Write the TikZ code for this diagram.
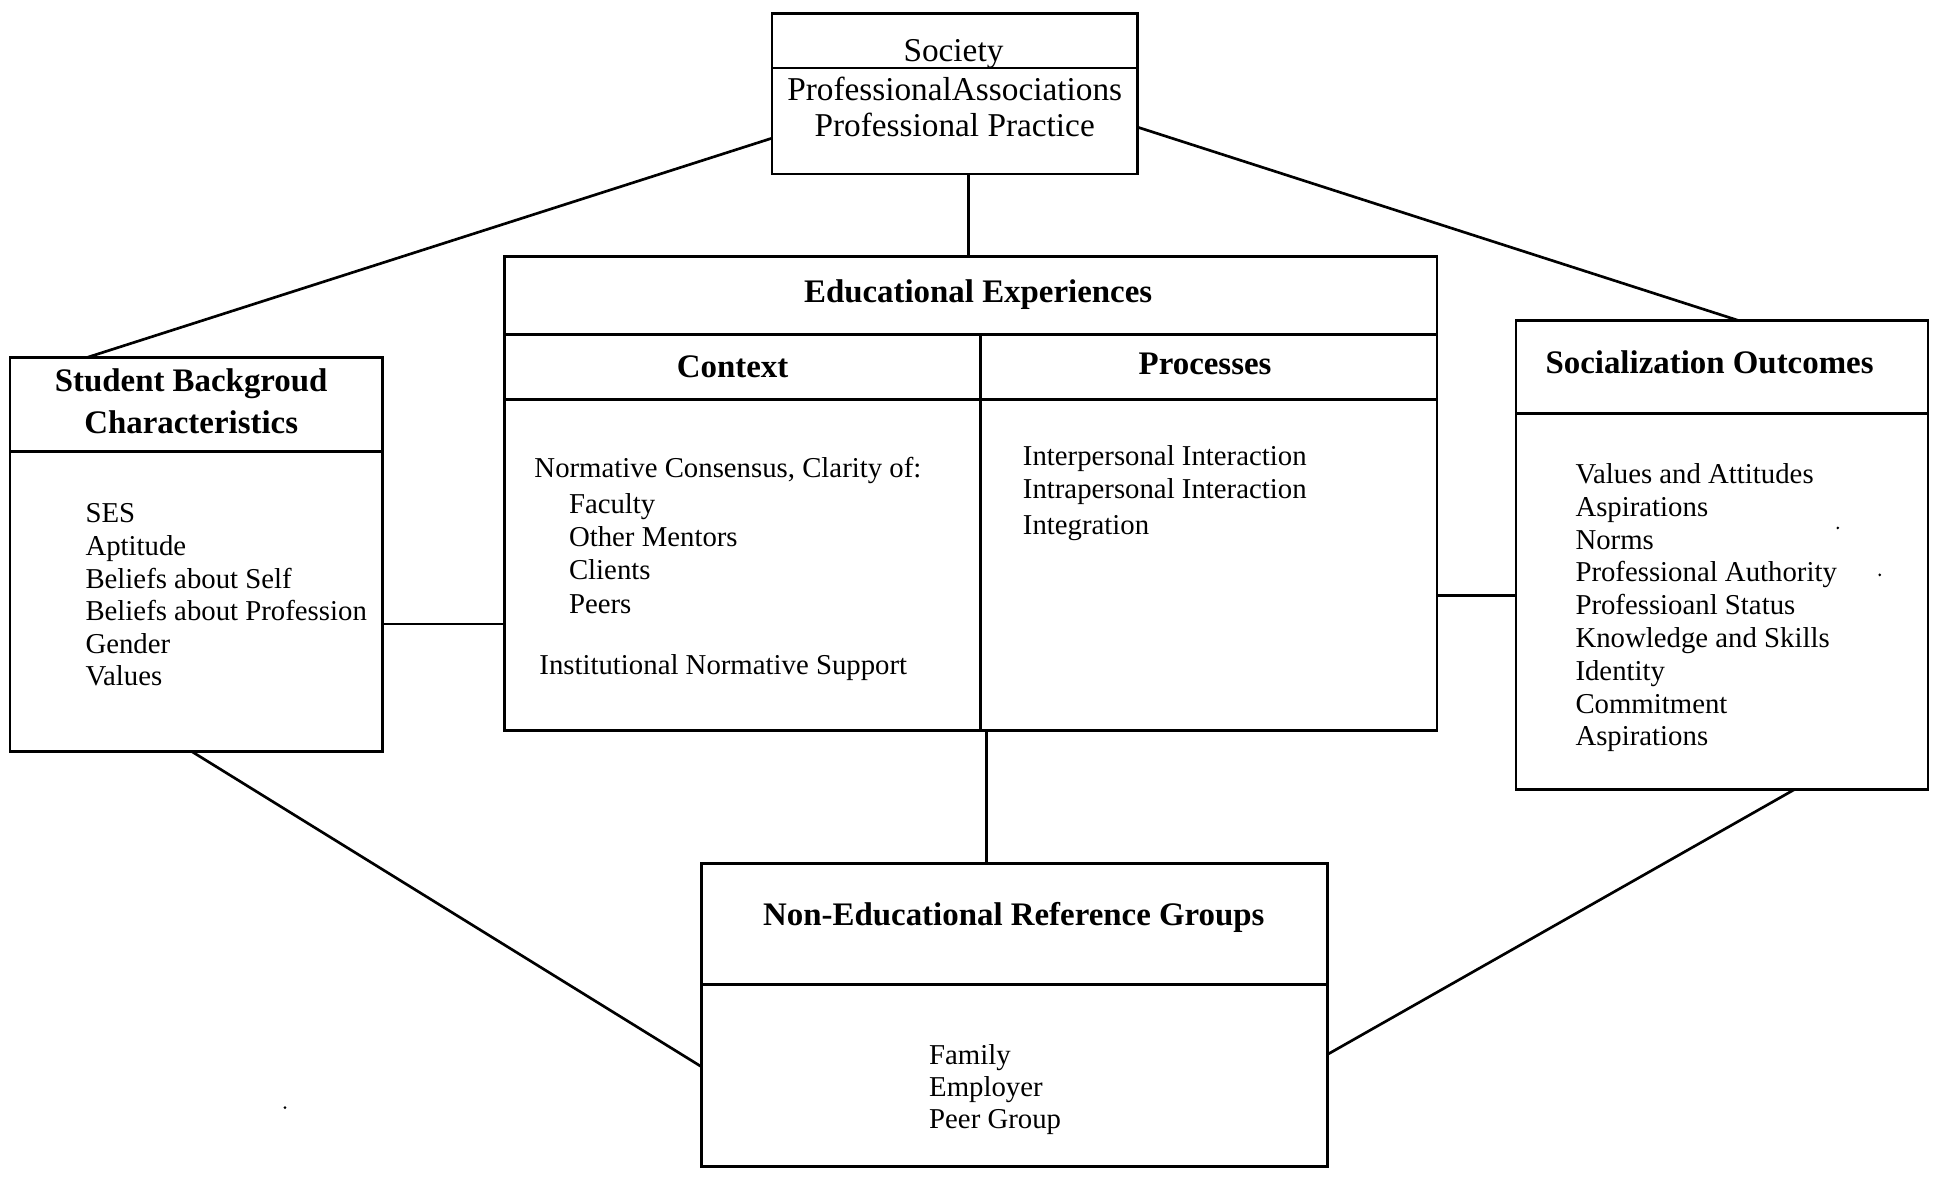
\documentclass[tikz,border=0pt]{standalone}
\usepackage{fontspec}
\setmainfont{Liberation Serif}
\usetikzlibrary{calc}
\tikzset{
 box/.style={draw, line width=1.3pt, rectangle, inner sep=0pt, outer sep=0pt, anchor=north west},
 rule/.style={line width=1.3pt},
 conn/.style={line width=1.3pt},
 head/.style={font=\fontsize{16}{19}\selectfont\bfseries, inner sep=0pt, anchor=center},
 soctext/.style={font=\fontsize{16.2}{19}\selectfont, inner sep=0pt, anchor=center},
 item/.style={font=\fontsize{14}{16}\selectfont, inner sep=0pt, anchor=base west},
}
\begin{document}
\begin{tikzpicture}[x=0.6pt,y=-0.6pt]
\useasboundingbox (0,0) rectangle (1568,958);
% boxes
\node[box, minimum width=177.6pt, minimum height=78pt] (soc) at (626,11) {};
\node[box, minimum width=453.6pt, minimum height=230.4pt] (ed) at (409,208) {};
\node[box, minimum width=181.2pt, minimum height=191.4pt] (stu) at (8,290) {};
\node[box, minimum width=200.4pt, minimum height=228pt] (out) at (1229,260) {};
\node[box, minimum width=304.2pt, minimum height=147.6pt] (ref) at (569,700) {};
% dividers
\draw[rule] (soc.west |- 0,55) -- (soc.east |- 0,55);
\draw[rule] (ed.west |- 0,271) -- (ed.east |- 0,271);
\draw[rule] (ed.west |- 0,324) -- (ed.east |- 0,324);
\draw[rule] (795,271) -- (ed.south -| 795,0);
\draw[rule] (stu.west |- 0,366) -- (stu.east |- 0,366);
\draw[rule] (out.west |- 0,335) -- (out.east |- 0,335);
\draw[rule] (ref.west |- 0,798) -- (ref.east |- 0,798);
% connectors
\draw[conn] (soc.south -| 785,0) -- (ed.north -| 785,0);
\draw[conn] (soc.west |- 0,112) -- (stu.north -| 70,0);
\draw[conn] (soc.east |- 0,103) -- (out.north -| 1410,0);
\draw[conn] (stu.east |- 0,506) -- (ed.west |- 0,506);
\draw[conn] (ed.east |- 0,483) -- (out.west |- 0,483);
\draw[conn] (ed.south -| 800,0) -- (ref.north -| 800,0);
\draw[conn] (stu.south -| 155,0) -- (ref.west |- 0,865);
\draw[conn] (out.south -| 1455,0) -- (ref.east |- 0,855);
% society
\node[soctext] (socT) at (773,44) {Society};
\node[soctext] (socA) at (774,72) {ProfessionalAssociations};
\node[soctext] (socP) at (774,101) {Professional Practice};
% educational
\node[head] (edT) at (793,239) {Educational Experiences};
\node[head] (ctxT) at (594,297) {Context};
\node[head] (prcT) at (977,295) {Processes};
\node[item] (c1) at (433,387) {Normative Consensus, Clarity of:};
\node[item] (c2) at (461,416) {Faculty};
\node[item] (c3) at (461,443) {Other Mentors};
\node[item] (c4) at (461,470) {Clients};
\node[item] (c5) at (461,497) {Peers};
\node[item] (c6) at (437,547) {Institutional Normative Support};
\node[item] (p1) at (829,377) {Interpersonal Interaction};
\node[item] (p2) at (829,404) {Intrapersonal Interaction};
\node[item] (p3) at (829,433) {Integration};
% student
\node[head] (stuT1) at (155,311) {Student Backgroud};
\node[head] (stuT2) at (155,342) {Characteristics};
\foreach \t [count=\i] in {SES, Aptitude, Beliefs about Self, Beliefs about Profession, Gender, Values}
  \node[item, name=stu\i] at (69,{424+26.4*(\i-1)}) {\t};
% outcomes
\node[head] (outT) at (1386,294) {Socialization Outcomes};
\foreach \t [count=\i] in {Values and Attitudes, Aspirations, Norms, Professional Authority, Professioanl Status, Knowledge and Skills, Identity, Commitment, Aspirations}
  \node[item, name=out\i] at (1277,{392+26.6*(\i-1)}) {\t};
% reference groups
\node[head] (refT) at (822,744) {Non-Educational Reference Groups};
\node[item] (r1) at (753,863) {Family};
\node[item] (r2) at (753,889) {Employer};
\node[item] (r3) at (753,915) {Peer Group};
% specks
\fill (1490,428) circle (1.2);
\fill (1524,466) circle (1.2);
\fill (231,898) circle (1.2);
\end{tikzpicture}
\end{document}
